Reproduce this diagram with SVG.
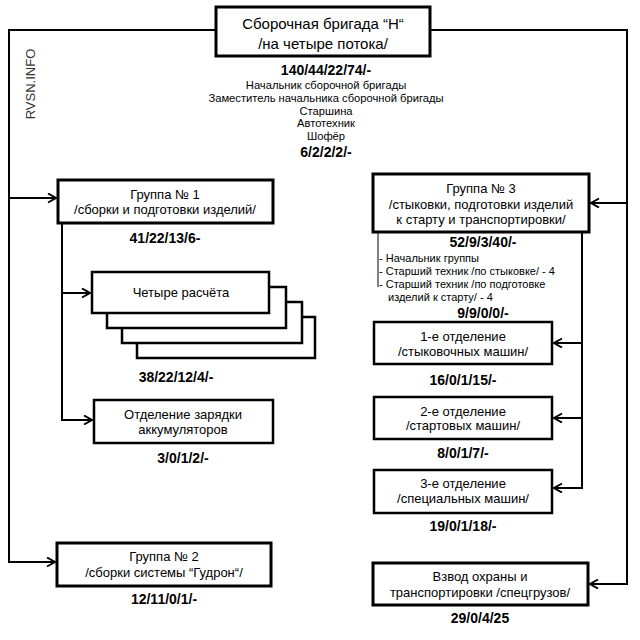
<svg xmlns="http://www.w3.org/2000/svg" width="640" height="640" viewBox="0 0 640 640">
<defs>
<marker id="arr" markerWidth="12" markerHeight="12" refX="9" refY="5" orient="auto" markerUnits="userSpaceOnUse">
<path d="M1,0.5 L9,5 L1,9.5" fill="none" stroke="#000" stroke-width="2"/>
</marker>
</defs>
<style>
.box{fill:#fff;stroke:#000;stroke-width:3}
.sbox{fill:#fff;stroke:#000;stroke-width:2.5}
.t{font-family:"Liberation Sans",Arial,sans-serif;fill:#000;text-anchor:middle}
.big{font-size:15px}
.m{font-size:13px}
.s{font-size:11.2px}
.xs{font-size:11px;text-anchor:start}
.n{font-size:14px;font-weight:bold}
.c{fill:none;stroke:#000;stroke-width:2}
</style>
<rect width="640" height="640" fill="#fff"/>
<text class="t m" transform="translate(35,84) rotate(-90)" style="fill:#333">RVSN.INFO</text>
<g id="connectors">
<path class="c" d="M216,30 H9 V562 H55" marker-end="url(#arr)"/>
<path class="c" d="M9,198 H56" marker-end="url(#arr)"/>
<path class="c" d="M430,30 H627 V584 H590" marker-end="url(#arr)"/>
<path class="c" d="M627,203 H591" marker-end="url(#arr)"/>
<path class="c" d="M62,223 V420 H92" marker-end="url(#arr)"/>
<path class="c" d="M62,293 H90" marker-end="url(#arr)"/>
<path class="c" d="M582,232 V488 H554" marker-end="url(#arr)"/>
<path class="c" d="M582,343 H554" marker-end="url(#arr)"/>
<path class="c" d="M582,418 H554" marker-end="url(#arr)"/>
<path d="M378,232 V287" fill="none" stroke="#000" stroke-width="1"/>
</g>
<g id="brigade">
<rect class="box" x="216" y="7" width="214" height="49"/>
<text class="t big" x="323" y="29">Сборочная бригада “Н“</text>
<text class="t big" x="323" y="49">/на четыре потока/</text>
<text class="t n" x="326" y="75">140/44/22/74/-</text>
<text class="t s" x="326" y="89">Начальник сборочной бригады</text>
<text class="t s" x="326" y="102">Заместитель начальника сборочной бригады</text>
<text class="t s" x="326" y="115">Старшина</text>
<text class="t s" x="326" y="127">Автотехник</text>
<text class="t s" x="326" y="140">Шофёр</text>
<text class="t n" x="326" y="157">6/2/2/2/-</text>
</g>
<g id="group1">
<rect class="box" x="58" y="180" width="215" height="43"/>
<text class="t m" x="165" y="199">Группа № 1</text>
<text class="t m" x="165" y="214">/сборки и подготовки изделий/</text>
<text class="t n" x="165" y="243">41/22/13/6-</text>
</g>
<g id="crews">
<rect class="sbox" x="137" y="317" width="178" height="41"/>
<rect class="sbox" x="122" y="302" width="180" height="41"/>
<rect class="sbox" x="107" y="287" width="179" height="41"/>
<rect class="sbox" x="92" y="272" width="177" height="41"/>
<text class="t m" x="181" y="297">Четыре расчёта</text>
<text class="t n" x="176" y="382">38/22/12/4/-</text>
</g>
<g id="battery">
<rect class="sbox" x="94" y="400" width="179" height="43"/>
<text class="t m" x="183" y="419">Отделение зарядки</text>
<text class="t m" x="183" y="434">аккумуляторов</text>
<text class="t n" x="183" y="463">3/0/1/2/-</text>
</g>
<g id="group2">
<rect class="box" x="57" y="543" width="214" height="43"/>
<text class="t m" x="164" y="561">Группа № 2</text>
<text class="t m" x="164" y="577">/сборки системы “Гудрон“/</text>
<text class="t n" x="164" y="604">12/11/0/1/-</text>
</g>
<g id="group3">
<rect class="box" x="373" y="174" width="216" height="58"/>
<text class="t m" x="481" y="193">Группа № 3</text>
<text class="t m" x="481" y="209">/стыковки, подготовки изделий</text>
<text class="t m" x="481" y="224">к старту и транспортировки/</text>
<text class="t n" x="483" y="247">52/9/3/40/-</text>
<text class="t xs" x="379" y="262">- Начальник группы</text>
<text class="t xs" x="379" y="275">- Старший техник /по стыковке/ - 4</text>
<text class="t xs" x="379" y="288">- Старший техник /по подготовке</text>
<text class="t xs" x="388" y="301">изделий к старту/ - 4</text>
<text class="t n" x="483" y="318">9/9/0/0/-</text>
</g>
<g id="dept1">
<rect class="sbox" x="374" y="322" width="178" height="42"/>
<text class="t m" x="463" y="341">1-е отделение</text>
<text class="t m" x="463" y="356">/стыковочных машин/</text>
<text class="t n" x="463" y="385">16/0/1/15/-</text>
</g>
<g id="dept2">
<rect class="sbox" x="374" y="397" width="178" height="42"/>
<text class="t m" x="463" y="416">2-е отделение</text>
<text class="t m" x="463" y="430">/стартовых машин/</text>
<text class="t n" x="463" y="458">8/0/1/7/-</text>
</g>
<g id="dept3">
<rect class="sbox" x="374" y="470" width="178" height="43"/>
<text class="t m" x="463" y="488">3-е отделение</text>
<text class="t m" x="463" y="503">/специальных машин/</text>
<text class="t n" x="463" y="531">19/0/1/18/-</text>
</g>
<g id="guard">
<rect class="box" x="373" y="563" width="215" height="42"/>
<text class="t m" x="480" y="581">Взвод охраны и</text>
<text class="t m" x="480" y="597">транспортировки /спецгрузов/</text>
<text class="t n" x="480" y="623">29/0/4/25</text>
</g>
</svg>
